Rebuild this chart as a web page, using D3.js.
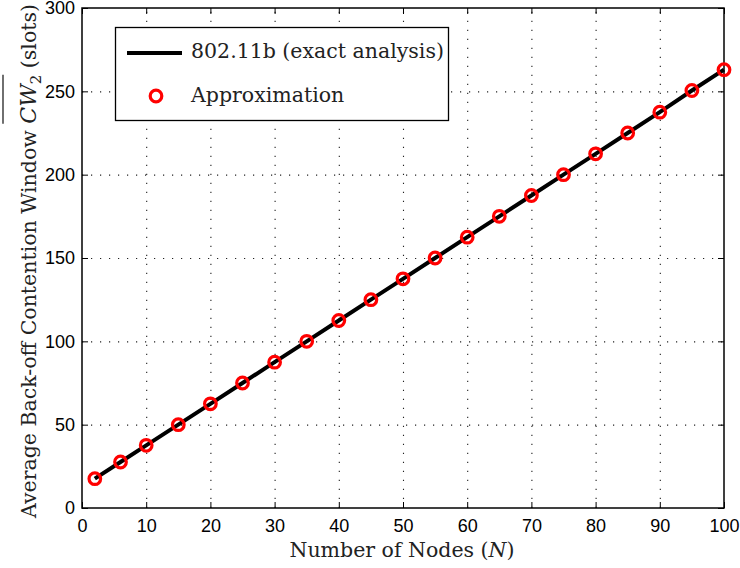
<!DOCTYPE html>
<html>
<head>
<meta charset="utf-8">
<script src="https://cdn.jsdelivr.net/npm/d3@7"></script>
<style>
  body { margin: 0; background: #fff; }
  .tick text { font-family: "Liberation Sans", Arial, sans-serif; font-size: 18px; fill: #000; }
  .lbl { font-family: "DejaVu Serif", serif; font-size: 20.5px; fill: #222; }
</style>
</head>
<body>
<div id="container"></div>
<script>
// data
const nodes = [2, 6, 10, 15, 20, 25, 30, 35, 40, 45, 50, 55, 60, 65, 70, 75, 80, 85, 90, 95, 100];
const exactCW = [17.6, 27.6, 37.6, 50, 62.5, 75, 87.5, 100, 112.5, 125, 137.5, 150, 162.5, 175, 187.5, 200, 212.5, 225, 237.5, 250.5, 263];
const approxCW = [17.6, 27.6, 37.6, 50, 62.5, 75, 87.5, 100, 112.5, 125, 137.5, 150, 162.5, 175, 187.5, 200, 212.5, 225, 237.5, 250.5, 263];
const xTicks = [0, 10, 20, 30, 40, 50, 60, 70, 80, 90, 100];
const yTicks = [0, 50, 100, 150, 200, 250, 300];

const w = 740, h = 568;
const padL = 82, padR = 724, padT = 8, padB = 508;

const xScale = d3.scaleLinear().domain([0, 100]).range([padL, padR]);
const yScale = d3.scaleLinear().domain([0, 300]).range([padB, padT]);

const svg = d3.select('#container').append('svg')
  .attr('width', w).attr('height', h);

// grid
const grid = svg.append('g').attr('stroke', '#222').attr('stroke-width', 1.1).attr('stroke-dasharray', '1.2,7.8');
grid.selectAll('.gx').data(xTicks.slice(1, -1)).enter().append('line')
  .attr('x1', d => xScale(d) + 0.5).attr('x2', d => xScale(d) + 0.5)
  .attr('y1', padB).attr('y2', padT);
grid.selectAll('.gy').data(yTicks.slice(1, -1)).enter().append('line')
  .attr('y1', d => yScale(d) + 0.5).attr('y2', d => yScale(d) + 0.5)
  .attr('x1', padL).attr('x2', padR);

// axes, ticks point inward
const xAxis = d3.axisBottom(xScale).tickValues(xTicks).tickSizeInner(-6).tickSizeOuter(0).tickPadding(11);
const yAxis = d3.axisLeft(yScale).tickValues(yTicks).tickSizeInner(-6).tickSizeOuter(0).tickPadding(7);
const xTop = d3.axisTop(xScale).tickValues(xTicks).tickSizeInner(-6).tickSizeOuter(0).tickFormat('');
const yRight = d3.axisRight(yScale).tickValues(yTicks).tickSizeInner(-6).tickSizeOuter(0).tickFormat('');

svg.append('g').attr('transform', 'translate(0,' + padB + ')').call(xAxis);
svg.append('g').attr('transform', 'translate(' + padL + ',0)').call(yAxis);
svg.append('g').attr('transform', 'translate(0,' + padT + ')').call(xTop);
svg.append('g').attr('transform', 'translate(' + padR + ',0)').call(yRight);
svg.selectAll('.domain').remove();
svg.selectAll('.tick line').attr('stroke', '#000');

svg.append('rect').attr('x', padL).attr('y', padT)
  .attr('width', padR - padL).attr('height', padB - padT)
  .attr('fill', 'none').attr('stroke', '#000').attr('stroke-width', 1.5);

// exact analysis line
const line = d3.line().x((d, i) => xScale(nodes[i])).y(d => yScale(d));
svg.append('path').datum(exactCW).attr('d', line)
  .attr('fill', 'none').attr('stroke', '#000').attr('stroke-width', 4);

// approximation markers
svg.selectAll('.pt').data(approxCW).enter().append('circle')
  .attr('cx', (d, i) => xScale(nodes[i])).attr('cy', d => yScale(d))
  .attr('r', 5.8).attr('fill', 'none').attr('stroke', '#f00').attr('stroke-width', 3.2);

// legend
const lg = svg.append('g');
lg.append('rect').attr('x', 115.5).attr('y', 27.5).attr('width', 333).attr('height', 93)
  .attr('fill', '#fff').attr('stroke', '#000').attr('stroke-width', 1.3);
lg.append('line').attr('x1', 127).attr('x2', 182).attr('y1', 53).attr('y2', 53)
  .attr('stroke', '#000').attr('stroke-width', 4);
lg.append('text').attr('class', 'lbl').attr('x', 191).attr('y', 58).attr('font-size', '19.8px').text('802.11b (exact analysis)');
lg.append('circle').attr('cx', 156).attr('cy', 96).attr('r', 5.8)
  .attr('fill', 'none').attr('stroke', '#f00').attr('stroke-width', 3.2);
lg.append('text').attr('class', 'lbl').attr('x', 191).attr('y', 102).attr('font-size', '19.8px').text('Approximation');

// x label
const xl = svg.append('text').attr('class', 'lbl').attr('x', 402).attr('y', 557).attr('text-anchor', 'middle');
xl.append('tspan').text('Number of Nodes (');
xl.append('tspan').attr('font-style', 'italic').text('N');
xl.append('tspan').text(')');

// y label
const yg = svg.append('g').attr('transform', 'translate(36,261) rotate(-90)');
const yl = yg.append('text').attr('class', 'lbl').attr('text-anchor', 'middle');
yl.append('tspan').text('Average Back-off Contention Window ');
yl.append('tspan').attr('font-style', 'italic').attr('font-size', '22px').text('CW');
yl.append('tspan').attr('font-size', '15px').attr('dy', 5).text('2');
yl.append('tspan').attr('dy', -5).text(' (slots)');
// overline over CW_2
const ci = 'Average Back-off Contention Window '.length;
const tn = yl.node();
const ox1 = tn.getStartPositionOfChar(ci).x;
const ox2 = tn.getEndPositionOfChar(ci + 2).x;
yg.append('line').attr('x1', ox1).attr('x2', ox2).attr('y1', -33).attr('y2', -33)
  .attr('stroke', '#222').attr('stroke-width', 1.3);
</script>
</body>
</html>
